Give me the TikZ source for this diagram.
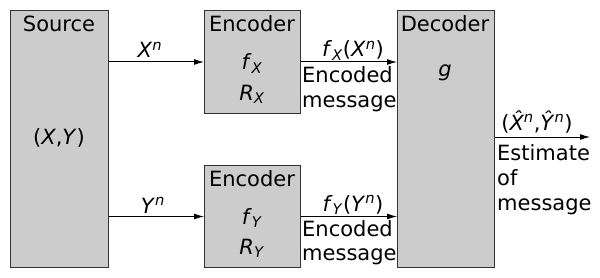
\documentclass[tikz,border=0pt]{standalone}
\usepackage{fontspec}
\setmainfont{DejaVu Sans}
\usetikzlibrary{arrows.meta}
\newcommand{\vi}[1]{\textit{#1}}
\newcommand{\subx}[1]{\textsubscript{\vi{#1}}}
\newcommand{\supn}{\textsuperscript{\vi{n}}}
\begin{document}
\begin{tikzpicture}[x=1pt,y=-1pt,
  blk/.style={draw=black!80,fill=black!20,line width=1pt,anchor=north west,inner sep=0pt},
  txt/.style={anchor=base,inner sep=0pt,font=\fontsize{21}{25}\selectfont},
  ltxt/.style={anchor=base west,inner sep=0pt,font=\fontsize{21}{25}\selectfont},
  conn/.style={line width=1pt,-{Latex[length=10pt,width=6pt]}}]
\useasboundingbox (0,0) rectangle (600,278);
\node[blk,minimum width=98pt,minimum height=257pt] (src) at (10,10) {};
\node[blk,minimum width=96pt,minimum height=103pt] (encx) at (204,10) {};
\node[blk,minimum width=96pt,minimum height=102pt] (ency) at (204,165) {};
\node[blk,minimum width=97pt,minimum height=257pt] (dec) at (397,10) {};
% box texts
\node[txt] (srct) at (59,32) {Source};
\node[txt] (xy) at (59,144) {(\vi{X},\vi{Y})};
\node[txt] (encxt) at (252,32) {Encoder};
\node[txt] (fx) at (252,70) {\vi{f}\subx{X}};
\node[txt] (rx) at (252,100) {\vi{R}\subx{X}};
\node[txt] (encyt) at (252,186) {Encoder};
\node[txt] (fy) at (252,224) {\vi{f}\subx{Y}};
\node[txt] (ry) at (252,254) {\vi{R}\subx{Y}};
\node[txt] (dect) at (445,32) {Decoder};
\node[txt] (g) at (445,77) {\vi{g}};
% connectors
\draw[conn] (src.east |- encx.west) -- (encx.west);
\draw[conn] (src.east |- ency.west) -- (ency.west);
\draw[conn] (encx.east) -- (dec.west |- encx.east);
\draw[conn] (ency.east) -- (dec.west |- ency.east);
\coordinate (out) at (590,137);
\draw[conn] (dec.east |- out) -- (out);
% connector labels
\node[txt] (lxn) at (150,58) {\vi{X}\supn};
\node[txt] (lyn) at (153,213) {\vi{Y}\supn};
\node[txt] (lfx) at (353,57) {\vi{f}\subx{X}(\vi{X}\supn)};
\node[ltxt] (emx1) at (302,83) {Encoded};
\node[ltxt] (emx2) at (302,107) {message};
\node[txt] (lfy) at (353,211) {\vi{f}\subx{Y}(\vi{Y}\supn)};
\node[ltxt] (emy1) at (302,236) {Encoded};
\node[ltxt] (emy2) at (302,260) {message};
\node[txt] (lout) at (537,130) {(\vi{\^{X}}\supn,\vi{\^{Y}}\supn)};
\node[ltxt] (est1) at (497,160) {Estimate};
\node[ltxt] (est2) at (497,185) {of};
\node[ltxt] (est3) at (497,210) {message};
\end{tikzpicture}
\end{document}
